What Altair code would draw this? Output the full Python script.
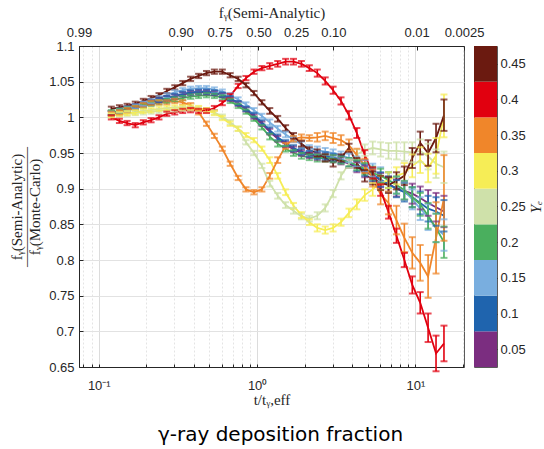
import json
import altair as alt
import pandas as pd

# ---------------- data ----------------
t_vals = [0.120, 0.135, 0.151, 0.170, 0.191, 0.214, 0.240, 0.269, 0.302, 0.339,
          0.380, 0.427, 0.479, 0.537, 0.603, 0.676, 0.759, 0.851, 0.955, 1.072,
          1.202, 1.349, 1.514, 1.698, 1.905, 2.138, 2.399, 2.692, 3.020, 3.388,
          3.802, 4.266, 4.786, 5.370, 6.026, 6.761, 7.586, 8.511, 9.550, 10.72,
          12.02, 13.49, 15.14]

ye_labels = ["0.05", "0.1", "0.15", "0.2", "0.25", "0.3", "0.35", "0.4", "0.45"]
ye_values = [0.05, 0.1, 0.15, 0.2, 0.25, 0.3, 0.35, 0.4, 0.45]
ye_colors = ["#7b2d80", "#1f64ae", "#79aedf", "#4aaf5e", "#cfe1aa",
             "#f6ed56", "#f0862a", "#e1000f", "#6b1a10"]

ratio_005 = [1.006, 1.009, 1.012, 1.015, 1.018, 1.021, 1.024, 1.027, 1.029, 1.032,
             1.034, 1.035, 1.035, 1.034, 1.031, 1.026, 1.019, 1.011, 1.001, 0.991,
             0.980, 0.970, 0.962, 0.955, 0.950, 0.947, 0.945, 0.944, 0.942, 0.939,
             0.935, 0.930, 0.924, 0.918, 0.912, 0.906, 0.901, 0.897, 0.893, 0.887,
             0.880, 0.874, 0.868]
ratio_010 = [1.006, 1.009, 1.012, 1.015, 1.018, 1.021, 1.024, 1.027, 1.030, 1.033,
             1.035, 1.036, 1.036, 1.035, 1.032, 1.027, 1.020, 1.012, 1.003, 0.993,
             0.982, 0.972, 0.964, 0.957, 0.952, 0.949, 0.947, 0.946, 0.944, 0.941,
             0.937, 0.932, 0.926, 0.920, 0.913, 0.906, 0.900, 0.895, 0.888, 0.880,
             0.872, 0.868, 0.862]
ratio_015 = [1.006, 1.009, 1.012, 1.015, 1.019, 1.023, 1.027, 1.031, 1.035, 1.038,
             1.040, 1.041, 1.041, 1.039, 1.036, 1.031, 1.025, 1.018, 1.010, 1.002,
             0.993, 0.984, 0.976, 0.969, 0.962, 0.957, 0.954, 0.952, 0.950, 0.947,
             0.943, 0.938, 0.932, 0.926, 0.920, 0.912, 0.905, 0.897, 0.885, 0.872,
             0.860, 0.845, 0.835]
ratio_020 = [1.007, 1.009, 1.011, 1.013, 1.016, 1.019, 1.021, 1.023, 1.025, 1.027,
             1.029, 1.030, 1.031, 1.030, 1.028, 1.023, 1.016, 1.008, 0.998, 0.986,
             0.973, 0.963, 0.956, 0.950, 0.946, 0.944, 0.943, 0.943, 0.942, 0.940,
             0.937, 0.933, 0.928, 0.922, 0.918, 0.912, 0.905, 0.898, 0.888, 0.878,
             0.862, 0.845, 0.825]
ratio_025 = [1.003, 1.004, 1.005, 1.006, 1.007, 1.008, 1.009, 1.010, 1.011, 1.012,
             1.012, 1.012, 1.010, 1.007, 1.001, 0.993, 0.984, 0.965, 0.950, 0.932,
             0.907, 0.890, 0.877, 0.869, 0.861, 0.858, 0.862, 0.873, 0.893, 0.918,
             0.935, 0.948, 0.954, 0.957, 0.955, 0.953, 0.953, 0.952, 0.951, 0.953,
             0.945, 0.935, 0.930]
ratio_030 = [1.003, 1.005, 1.006, 1.007, 1.009, 1.010, 1.012, 1.013, 1.014, 1.014,
             1.014, 1.013, 1.010, 1.006, 0.999, 0.991, 0.984, 0.975, 0.968, 0.956,
             0.940, 0.918, 0.895, 0.876, 0.863, 0.853, 0.845, 0.842, 0.845, 0.853,
             0.866, 0.878, 0.891, 0.899, 0.908, 0.912, 0.918, 0.922, 0.932, 0.940,
             0.929, 0.946, 1.002]
ratio_035 = [1.005, 1.007, 1.010, 1.013, 1.017, 1.020, 1.021, 1.021, 1.023, 1.021,
             1.017, 1.007, 0.991, 0.974, 0.956, 0.935, 0.915, 0.899, 0.895, 0.899,
             0.918, 0.940, 0.960, 0.970, 0.972, 0.971, 0.972, 0.974, 0.971, 0.968,
             0.961, 0.947, 0.932, 0.915, 0.892, 0.880, 0.856, 0.831, 0.810, 0.796,
             0.777, 0.831, 0.887]
ratio_040 = [1.000, 0.995, 0.992, 0.989, 0.993, 0.996, 1.000, 1.005, 1.007, 1.009,
             1.010, 1.009, 1.009, 1.013, 1.020, 1.030, 1.044, 1.055, 1.064, 1.069,
             1.072, 1.075, 1.078, 1.078, 1.075, 1.069, 1.062, 1.051, 1.038, 1.023,
             1.003, 0.978, 0.947, 0.922, 0.898, 0.867, 0.834, 0.800, 0.765, 0.740,
             0.705, 0.669, 0.683]
ratio_045 = [1.012, 1.014, 1.016, 1.019, 1.023, 1.027, 1.031, 1.037, 1.042, 1.048,
             1.054, 1.058, 1.062, 1.064, 1.064, 1.059, 1.054, 1.045, 1.034, 1.021,
             1.009, 0.998, 0.985, 0.974, 0.963, 0.954, 0.950, 0.943, 0.936, 0.943,
             0.957, 0.936, 0.918, 0.915, 0.908, 0.905, 0.911, 0.918, 0.943, 0.964,
             0.950, 0.971, 1.003]

err_common = [0.003, 0.003, 0.003, 0.003, 0.003, 0.003, 0.003, 0.003, 0.003, 0.003,
              0.003, 0.003, 0.003, 0.003, 0.003, 0.003, 0.003, 0.003, 0.003, 0.003,
              0.004, 0.004, 0.004, 0.004, 0.004, 0.004, 0.005, 0.005, 0.005, 0.005,
              0.006, 0.007, 0.008, 0.009, 0.010, 0.011, 0.012, 0.013, 0.014, 0.016,
              0.018, 0.020, 0.022]
err_red = [0.003, 0.003, 0.003, 0.003, 0.003, 0.003, 0.003, 0.003, 0.003, 0.003,
           0.003, 0.003, 0.003, 0.003, 0.003, 0.003, 0.003, 0.003, 0.003, 0.003,
           0.004, 0.004, 0.004, 0.004, 0.004, 0.004, 0.005, 0.005, 0.005, 0.005,
           0.006, 0.007, 0.007, 0.008, 0.008, 0.009, 0.010, 0.010, 0.012, 0.015,
           0.020, 0.025, 0.025]
err_orange = [0.003, 0.003, 0.003, 0.003, 0.003, 0.003, 0.003, 0.003, 0.003, 0.003,
              0.003, 0.003, 0.003, 0.003, 0.003, 0.003, 0.003, 0.003, 0.003, 0.003,
              0.004, 0.004, 0.004, 0.004, 0.004, 0.004, 0.006, 0.006, 0.007, 0.007,
              0.008, 0.009, 0.010, 0.012, 0.014, 0.016, 0.020, 0.020, 0.022, 0.025,
              0.030, 0.050, 0.060]
err_yellow = [0.003, 0.003, 0.003, 0.003, 0.003, 0.003, 0.003, 0.003, 0.003, 0.003,
              0.003, 0.003, 0.003, 0.003, 0.003, 0.003, 0.003, 0.003, 0.003, 0.003,
              0.004, 0.004, 0.004, 0.004, 0.004, 0.004, 0.005, 0.005, 0.005, 0.005,
              0.006, 0.007, 0.008, 0.009, 0.010, 0.011, 0.012, 0.014, 0.016, 0.018,
              0.020, 0.025, 0.030]

series = {
    "0.05": (ratio_005, err_common), "0.1": (ratio_010, err_common),
    "0.15": (ratio_015, err_common), "0.2": (ratio_020, err_common),
    "0.25": (ratio_025, err_common), "0.3": (ratio_030, err_yellow),
    "0.35": (ratio_035, err_orange), "0.4": (ratio_040, err_red),
    "0.45": (ratio_045, err_common),
}

# axis tick lists
x_ticks = [0.08, 0.09, 0.1, 0.2, 0.3, 0.4, 0.5, 0.6, 0.7, 0.8, 0.9,
           1, 2, 3, 4, 5, 6, 7, 8, 9, 10, 20]
top_tick_pos = [0.075, 0.329, 0.579, 1.02, 1.765, 3.03, 10.18, 20.26]
top_tick_labels = ["0.99", "0.90", "0.75", "0.50", "0.25", "0.10", "0.01", "0.0025"]
y_ticks = [0.65, 0.7, 0.75, 0.8, 0.85, 0.9, 0.95, 1.0, 1.05, 1.1]

# ---------------- tables ----------------
rows = []
for lab in ye_labels:
    vals, errs = series[lab]
    for t, v, e in zip(t_vals, vals, errs):
        rows.append({"t": t, "ratio": v, "lo": v - e, "hi": v + e, "Ye": lab})
df = pd.DataFrame(rows)

cbar_df = pd.DataFrame({"Ye": ye_labels,
                        "y0": [v - 0.025 for v in ye_values],
                        "y1": [v + 0.025 for v in ye_values]})

# ---------------- encodings ----------------
X_DOMAIN = [0.075, 20.26]
Y_DOMAIN = [0.65, 1.1]
AX = "#262626"

color = alt.Color("Ye:N", scale=alt.Scale(domain=ye_labels, range=ye_colors), legend=None)

major = "datum.value == 0.1 || datum.value == 1 || datum.value == 10"
x_bottom_axis = alt.Axis(
    values=x_ticks,
    labelExpr="datum.value == 0.1 ? '10\u207b\u00b9' : datum.value == 1 ? '10\u2070' : datum.value == 10 ? '10\u00b9' : ''",
    labelOverlap=False, labelFlush=False, labelPadding=15,
    tickSize={"expr": "-3"},
    grid=True,
    gridColor={"condition": {"test": major, "value": "#dcdcdc"}, "value": "#e4e4e4"},
    gridDash={"condition": {"test": major, "value": []}, "value": [2, 2]},
    title="t/t\u1d67,eff", titlePadding=0,
)
top_expr = "{0}[indexof({1}, datum.value)]".format(json.dumps(top_tick_labels).replace('"', "'"),
                                                   json.dumps(top_tick_pos))
x_top_axis = alt.Axis(
    orient="top", values=top_tick_pos, labelExpr=top_expr,
    labelOverlap=False, labelFlush=False, labelPadding=11,
    tickSize={"expr": "-4"}, grid=False,
    title="f\u1d67(Semi-Analytic)", titlePadding=6,
)
y_axis = alt.Axis(
    values=y_ticks, format="~g", grid=True, gridColor="#e2e2e2",
    tickSize={"expr": "-4"}, labelPadding=9,
    title=["f\u1d67(Semi-Analytic)", "\u2014\u2014\u2014\u2014\u2014\u2014\u2014\u2014", "f\u1d67(Monte-Carlo)"],
    titleLineHeight=9, titlePadding=6,
)

def xs(axis):
    return alt.X("t:Q", scale=alt.Scale(type="log", domain=X_DOMAIN, nice=False), axis=axis)

def ys(field):
    return alt.Y(field, type="quantitative", scale=alt.Scale(domain=Y_DOMAIN, nice=False), axis=y_axis)

base = alt.Chart(df)
lines = base.mark_line(strokeWidth=1.8).encode(x=xs(x_bottom_axis), y=ys("ratio"), color=color)
bars = base.mark_rule(strokeWidth=1.6).encode(x=xs(x_top_axis), y=ys("lo"), y2="hi", color=color)
cap_lo = base.mark_tick(orient="horizontal", size=7, thickness=2).encode(x=xs(None), y=ys("lo"), color=color)
cap_hi = base.mark_tick(orient="horizontal", size=7, thickness=2).encode(x=xs(None), y=ys("hi"), color=color)

main = alt.layer(lines, bars, cap_lo, cap_hi).resolve_scale(x="independent").properties(width=385, height=321)

cbar = alt.Chart(cbar_df).mark_rect().encode(
    y=alt.Y("y0:Q", scale=alt.Scale(domain=[0.025, 0.475], nice=False),
            axis=alt.Axis(orient="right", values=ye_values, format="~g", grid=False,
                          tickSize={"expr": "-3"}, labelPadding=6, domain=False,
                          title="Y\u2091", titleAngle=270, titleBaseline="top",
                          titleFontStyle="italic", titlePadding=3)),
    y2="y1:Q",
    color=color,
).properties(width=23, height=321)

chart = alt.hconcat(main, cbar, spacing=10, bounds="flush").properties(
    title=alt.TitleParams("\u03b3-ray deposition fraction", orient="bottom", anchor="middle",
                          font="DejaVu Sans", fontSize=20, fontWeight="normal",
                          color="black", offset=17, dx=4),
    padding={"left": 9, "top": 4, "right": 0, "bottom": 0},
).configure_view(
    stroke="#5a5a5a", strokeWidth=1
).configure_axis(
    labelFont="Liberation Sans", labelFontSize=13, labelColor=AX,
    titleFont="Liberation Serif", titleFontSize=15, titleFontWeight="normal", titleColor=AX,
    domainColor=AX, tickColor=AX,
)

chart.save("out.html", embed_options={"renderer": "svg", "actions": False})
